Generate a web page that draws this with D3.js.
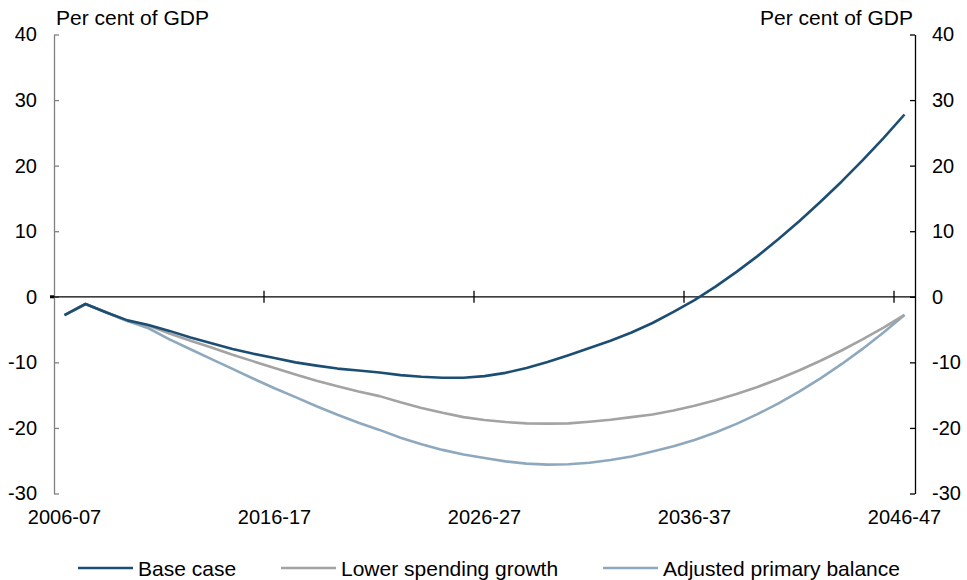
<!DOCTYPE html>
<html>
<head>
<meta charset="utf-8">
<script src="https://cdn.jsdelivr.net/npm/d3@7/dist/d3.min.js"></script>
<style>
  html, body { margin: 0; padding: 0; background: #fff; }
  svg text { font-family: Arial, "Liberation Sans", sans-serif; fill: #000; }
</style>
</head>
<body>
<svg id="chart" width="967" height="580"></svg>
<script>
const categories = [
  "2006-07","2007-08","2008-09","2009-10","2010-11","2011-12","2012-13","2013-14","2014-15","2015-16",
  "2016-17","2017-18","2018-19","2019-20","2020-21","2021-22","2022-23","2023-24","2024-25","2025-26",
  "2026-27","2027-28","2028-29","2029-30","2030-31","2031-32","2032-33","2033-34","2034-35","2035-36",
  "2036-37","2037-38","2038-39","2039-40","2040-41","2041-42","2042-43","2043-44","2044-45","2045-46",
  "2046-47"
];
const xTickLabels = ["2006-07","2016-17","2026-27","2036-37","2046-47"];
const yTicks = [-30, -20, -10, 0, 10, 20, 30, 40];
const seriesNames = ["Base case", "Lower spending growth", "Adjusted primary balance"];

const baseCase = [
  -2.8, -1.1, -2.4, -3.6, -4.3, -5.2, -6.2, -7.1, -7.95, -8.7,
  -9.35, -10.0, -10.5, -10.95, -11.25, -11.55, -11.95, -12.2, -12.35, -12.35,
  -12.1, -11.6, -10.85, -9.95, -8.9, -7.8, -6.7, -5.45, -4.0, -2.3,
  -0.5, 1.55, 3.8, 6.2, 8.8, 11.55, 14.5, 17.55, 20.8, 24.2,
  27.8
];
const lowerSpending = [
  -2.8, -1.1, -2.4, -3.7, -4.4, -5.6, -6.7, -7.75, -8.85, -9.85,
  -10.85, -11.85, -12.8, -13.65, -14.45, -15.15, -16.1, -16.95, -17.7, -18.35,
  -18.8, -19.1, -19.3, -19.35, -19.3, -19.05, -18.75, -18.35, -17.95, -17.35,
  -16.63, -15.79, -14.83, -13.75, -12.54, -11.21, -9.76, -8.19, -6.5, -4.69,
  -2.76
];
const adjustedPrimary = [
  -2.8, -1.1, -2.4, -3.7, -4.8, -6.5, -8.0, -9.5, -11.0, -12.5,
  -13.95, -15.3, -16.7, -18.0, -19.2, -20.3, -21.5, -22.5, -23.35, -24.05,
  -24.6, -25.1, -25.45, -25.6, -25.55, -25.3, -24.9, -24.35, -23.6, -22.8,
  -21.83, -20.69, -19.38, -17.9, -16.25, -14.43, -12.44, -10.28, -7.95, -5.45,
  -2.78
];
const seriesColors = ["#1c4e74", "#a3a3a3", "#8ea9bd"];

const svg = d3.select("#chart");
const plotLeft = 54, plotRight = 915, plotTop = 34.5, plotBottom = 493.5;
const FONT = "Arial, 'Liberation Sans', sans-serif";
const fmt = d => String(d);

const x = d3.scaleBand().domain(categories).range([plotLeft, plotRight]).padding(0);
const y = d3.scaleLinear().domain([-30, 40]).range([plotBottom, plotTop]);
const cx = c => x(c) + x.bandwidth() / 2;

// Left axis
const yLeft = d3.axisLeft(y).tickValues(yTicks).tickFormat(fmt).tickSizeInner(-5).tickSizeOuter(0).tickPadding(17);
const gL = svg.append("g").attr("transform", `translate(${plotLeft},0)`).call(yLeft);
gL.select(".domain").attr("stroke", "#808080").attr("stroke-width", 1.3);
gL.selectAll(".tick line").attr("stroke", "#808080").attr("stroke-width", 1.3);
gL.selectAll(".tick text").attr("font-size", 20).attr("font-family", FONT).attr("fill", "#000");

// Right axis
const yRight = d3.axisRight(y).tickValues(yTicks).tickFormat(fmt).tickSizeInner(-5).tickSizeOuter(0).tickPadding(17);
const gR = svg.append("g").attr("transform", `translate(${plotRight},0)`).call(yRight);
gR.select(".domain").attr("stroke", "#000").attr("stroke-width", 1.3);
gR.selectAll(".tick line").attr("stroke", "#000").attr("stroke-width", 1.3);
gR.selectAll(".tick text").attr("font-size", 20).attr("font-family", FONT).attr("fill", "#000");

// Zero line with crossing category ticks
const y0 = y(0);
svg.append("line").attr("x1", plotLeft - 3).attr("x2", plotRight).attr("y1", y0).attr("y2", y0)
  .attr("stroke", "#000").attr("stroke-width", 1.3);
svg.append("line").attr("x1", plotLeft - 4).attr("x2", plotLeft).attr("y1", y0).attr("y2", y0)
  .attr("stroke", "#000").attr("stroke-width", 3);
const tickCats = xTickLabels.slice(1);
svg.append("g").selectAll("line").data(tickCats).join("line")
  .attr("x1", d => x(d)).attr("x2", d => x(d))
  .attr("y1", y0 - 6).attr("y2", y0 + 6)
  .attr("stroke", "#000").attr("stroke-width", 1.3);

// Category labels at bottom
const xAxis = d3.axisBottom(x).tickValues(xTickLabels).tickSize(0).tickPadding(0);
const gX = svg.append("g").attr("transform", `translate(0,${plotBottom + 16})`).call(xAxis);
gX.select(".domain").remove();
gX.selectAll(".tick text").attr("font-size", 20).attr("font-family", FONT).attr("fill", "#000");

// Axis titles
svg.append("text").attr("x", 56).attr("y", 25).attr("font-size", 21).text("Per cent of GDP");
svg.append("text").attr("x", 913).attr("y", 25).attr("font-size", 21).attr("text-anchor", "end").text("Per cent of GDP");

// Lines
const seriesData = [baseCase, lowerSpending, adjustedPrimary];
const line = d3.line().x((d, i) => cx(categories[i])).y(d => y(d));
[2, 1, 0].forEach(k => {
  svg.append("path").datum(seriesData[k])
    .attr("fill", "none").attr("stroke", seriesColors[k]).attr("stroke-width", 2.6)
    .attr("stroke-linejoin", "round").attr("d", line);
});

// Legend
const legendX = [78, 281, 603];
const legendY = 568;
const lg = svg.append("g").selectAll("g").data(seriesNames).join("g")
  .attr("transform", (d, i) => `translate(${legendX[i]},${legendY})`);
lg.append("line").attr("x1", 0).attr("x2", 55).attr("y1", 0).attr("y2", 0)
  .attr("stroke", (d, i) => seriesColors[i]).attr("stroke-width", 2.6);
lg.append("text").attr("x", 60).attr("y", 7.5).attr("font-size", 21).text(d => d);
</script>
</body>
</html>
